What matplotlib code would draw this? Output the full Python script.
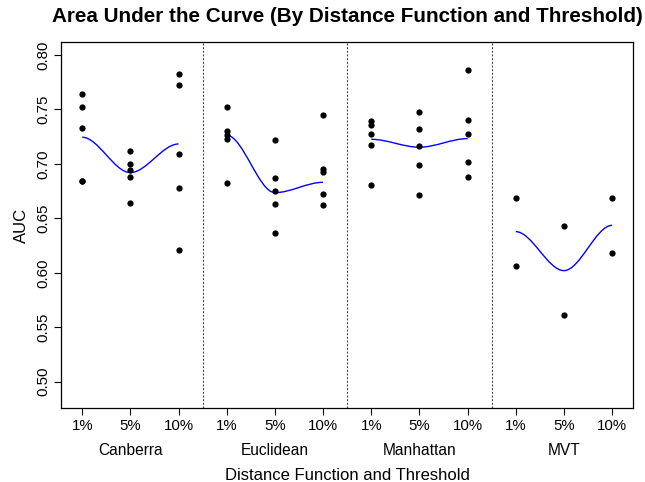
import numpy as np
import matplotlib
matplotlib.use('Agg')
import matplotlib.pyplot as plt
from matplotlib.path import Path
from matplotlib.patches import PathPatch

plt.rcParams['font.family'] = ['Liberation Sans', 'DejaVu Sans']

# categories
groups = ['Canberra', 'Euclidean', 'Manhattan', 'MVT']
thresholds = ['1%', '5%', '10%']

# AUC per fold, for each distance function and threshold (1%, 5%, 10%)
canberra = [[0.7645, 0.7525, 0.7333, 0.6843, 0.6843],
            [0.7121, 0.7002, 0.6941, 0.6880, 0.6641],
            [0.7823, 0.7728, 0.7091, 0.6776, 0.6207]]
euclidean = [[0.7523, 0.7302, 0.7263, 0.7232, 0.6828],
             [0.7222, 0.6868, 0.6749, 0.6629, 0.6369],
             [0.7446, 0.6953, 0.6923, 0.6724, 0.6623]]
manhattan = [[0.7397, 0.7357, 0.7275, 0.7174, 0.6806],
             [0.7474, 0.7320, 0.7164, 0.6993, 0.6714],
             [0.7859, 0.7400, 0.7275, 0.7018, 0.6877]]
mvt = [[0.6684, 0.6065],
       [0.6427, 0.5610],
       [0.6684, 0.6182]]

# smooth trend per group (value at each threshold)
trend_canberra = [0.7245, 0.6920, 0.7183]
trend_euclidean = [0.7263, 0.6736, 0.6831]
trend_manhattan = [0.7226, 0.7153, 0.7232]
trend_mvt = [0.6378, 0.6020, 0.6436]

yticks = [0.50, 0.55, 0.60, 0.65, 0.70, 0.75, 0.80]

all_points = [canberra, euclidean, manhattan, mvt]
all_trends = [trend_canberra, trend_euclidean, trend_manhattan, trend_mvt]

fig = plt.figure(figsize=(6.45, 4.82), dpi=100)
ax = fig.add_axes([0.0946, 0.1529, 0.8873, 0.7606])

pos = 1
for g, (pts, trend) in enumerate(zip(all_points, all_trends)):
    xs = [pos, pos + 1, pos + 2]
    for i, vals in enumerate(pts):
        ax.plot([xs[i]] * len(vals), vals, 'o', color='k', markersize=4.5,
                markeredgewidth=0, zorder=3)
    # smooth curve through the trend values (flat at each threshold)
    verts = [(xs[0], trend[0])]
    codes = [Path.MOVETO]
    for i in range(2):
        verts += [(xs[i] + 1/3, trend[i]), (xs[i + 1] - 1/3, trend[i + 1]),
                  (xs[i + 1], trend[i + 1])]
        codes += [Path.CURVE4] * 3
    ax.add_patch(PathPatch(Path(verts, codes), facecolor='none',
                           edgecolor='#0000ff', linewidth=1.0, zorder=2))
    ax.text(xs[1], -0.1157, groups[g], transform=ax.get_xaxis_transform(),
            ha='center', va='center', fontsize=11.2)
    if g < 3:
        ax.axvline(pos + 2.5, color='#444444', linestyle=(0, (1.8, 1.5)), linewidth=0.8)
    pos += 3

ax.set_xlim(0.56, 12.44)
ax.set_ylim(0.4756, 0.8122)
ax.set_xticks(range(1, 13))
ax.set_xticklabels(thresholds * 4, fontsize=10.8)
ax.set_yticks(yticks)
ax.set_yticklabels(['%.2f' % v for v in yticks], fontsize=10.8, rotation=90,
                   va='center')
ax.tick_params(length=5, width=0.8, pad=3)
for s in ax.spines.values():
    s.set_linewidth(0.9)

fig.text(0.5380, 0.965, 'Area Under the Curve (By Distance Function and Threshold)',
         ha='center', va='center', fontsize=14.9, fontweight='bold')
fig.text(0.5380, 0.0145, 'Distance Function and Threshold', ha='center',
         va='center', fontsize=12)
fig.text(0.034, 0.5331, 'AUC', ha='center', va='center', rotation=90,
         fontsize=12)

fig.savefig('out.png', dpi=100)
